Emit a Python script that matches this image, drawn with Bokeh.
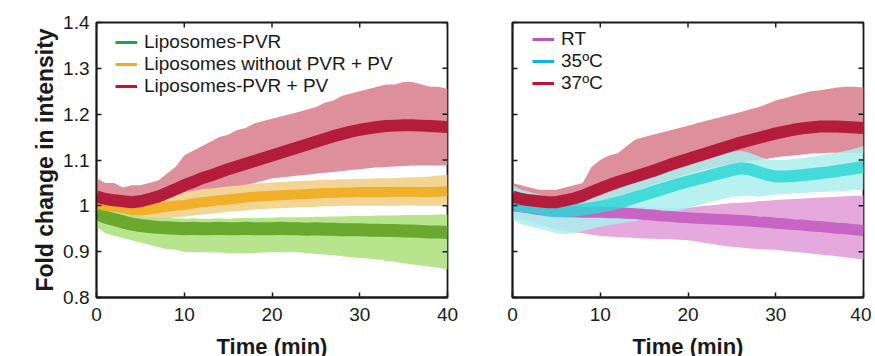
from bokeh.plotting import figure
from bokeh.layouts import row
from bokeh.models import Range1d, Legend, LegendItem, FixedTicker
from bokeh.embed import file_html
from bokeh.resources import INLINE

NAN = float("nan")

# ---------------- data ----------------
time_min = list(range(0, 41))

# Panel A
pvr_mean = [0.985, 0.975, 0.970, 0.965, 0.960, 0.957, 0.955, 0.953, 0.952, 0.951, 0.950, 0.951, 0.950, 0.950, 0.951, 0.950,
            0.950, 0.951, 0.950, 0.950, 0.950, 0.951, 0.950, 0.950, 0.949, 0.950, 0.949, 0.949, 0.948, 0.948, 0.948, 0.947,
            0.947, 0.946, 0.946, 0.945, 0.945, 0.944, 0.943, 0.943, 0.942]
pvr_upper = [1.005, 0.995, 0.990, 0.985, 0.980, 0.978, 0.975, 0.975, 0.974, 0.973, 0.972, 0.973, 0.972, 0.972, 0.973, 0.972,
             0.973, 0.974, 0.973, 0.974, 0.974, 0.975, 0.975, 0.975, 0.975, 0.976, 0.976, 0.977, 0.977, 0.978, 0.978, 0.978,
             0.979, 0.979, 0.979, 0.980, 0.980, 0.980, 0.980, 0.981, 0.981]
pvr_lower = [0.955, 0.940, 0.935, 0.930, 0.925, 0.920, 0.915, 0.910, 0.906, 0.904, 0.900, 0.899, 0.900, 0.898, 0.898, 0.897,
             0.897, 0.896, 0.897, 0.898, 0.899, 0.899, 0.900, 0.899, 0.897, 0.895, 0.894, 0.892, 0.890, 0.888, 0.886, 0.885,
             0.883, 0.880, 0.878, 0.875, 0.872, 0.870, 0.867, 0.865, 0.861]

nopvr_mean = [1.005, 1.000, 0.998, 0.995, 0.991, 0.990, 0.992, 0.995, 0.998, 1.000, 1.002, 1.005, 1.008, 1.010, 1.012, 1.014,
              1.016, 1.018, 1.020, 1.021, 1.022, 1.023, 1.024, 1.025, 1.026, 1.027, 1.028, 1.028, 1.029, 1.029, 1.030, 1.030,
              1.030, 1.030, 1.031, 1.031, 1.031, 1.030, 1.030, 1.031, 1.032]
nopvr_upper = [1.030, 1.025, 1.022, 1.018, 1.015, 1.015, 1.017, 1.020, 1.024, 1.027, 1.030, 1.033, 1.036, 1.038, 1.040, 1.042,
               1.044, 1.046, 1.048, 1.050, 1.051, 1.052, 1.053, 1.054, 1.055, 1.056, 1.057, 1.057, 1.058, 1.058, 1.059, 1.059,
               1.060, 1.060, 1.061, 1.062, 1.062, 1.063, 1.064, 1.066, 1.068]
nopvr_lower = [0.982, 0.976, 0.973, 0.970, 0.967, 0.966, 0.968, 0.970, 0.973, 0.975, 0.977, 0.979, 0.981, 0.983, 0.985, 0.987,
               0.989, 0.990, 0.992, 0.993, 0.994, 0.995, 0.996, 0.997, 0.997, 0.998, 0.999, 0.999, 1.000, 1.000, 1.000, 1.000,
               1.000, 1.000, 1.000, 1.001, 1.001, 1.000, 1.000, 1.000, 1.000]

pvrpv_mean = [1.020, 1.015, 1.012, 1.010, 1.008, 1.010, 1.015, 1.020, 1.028, 1.036, 1.045, 1.052, 1.060, 1.066, 1.073, 1.080,
              1.086, 1.092, 1.098, 1.104, 1.110, 1.116, 1.122, 1.128, 1.134, 1.140, 1.146, 1.152, 1.157, 1.162, 1.166, 1.169,
              1.172, 1.174, 1.175, 1.176, 1.176, 1.175, 1.174, 1.173, 1.172]
pvrpv_upper = [1.060, 1.050, 1.050, 1.040, 1.045, 1.045, 1.050, 1.055, 1.070, 1.085, 1.110, 1.120, 1.130, 1.140, 1.150, 1.155,
               1.165, 1.170, 1.180, 1.185, 1.190, 1.195, 1.200, 1.205, 1.210, 1.215, 1.225, 1.230, 1.240, 1.245, 1.250, 1.255,
               1.260, 1.265, 1.265, 1.270, 1.270, 1.265, 1.260, 1.260, 1.255]
pvrpv_lower = [0.995, 0.990, 0.990, 0.985, 0.985, 0.990, 0.990, 0.995, 1.000, 1.005, 1.010, 1.015, 1.020, 1.025, 1.030, 1.035,
               1.040, 1.045, 1.050, 1.055, 1.060, 1.062, 1.064, 1.066, 1.068, 1.070, 1.072, 1.074, 1.076, 1.078, 1.080, 1.082,
               1.084, 1.085, 1.086, 1.087, 1.088, 1.088, 1.088, 1.088, 1.088]

# Panel B
rt_mean = [1.000, 0.998, 0.995, 0.992, 0.990, 0.988, 0.987, 0.987, 0.986, 0.986, 0.986, 0.985, 0.985, 0.984, 0.983, 0.981,
           0.980, 0.978, 0.977, 0.975, 0.974, 0.973, 0.972, 0.971, 0.970, 0.969, 0.968, 0.967, 0.965, 0.964, 0.962, 0.961,
           0.959, 0.958, 0.956, 0.955, 0.953, 0.951, 0.950, 0.948, 0.946]
rt_upper = [1.025, 1.022, 1.018, 1.015, 1.012, 1.010, 1.008, 1.006, 1.005, 1.004, 1.002, 1.001, 1.000, 0.999, 0.998, 0.997,
            0.996, 0.996, 0.995, 0.995, 0.996, 0.998, 1.000, 1.002, 1.004, 1.006, 1.007, 1.008, 1.010, 1.011, 1.013, 1.014,
            1.015, 1.016, 1.017, 1.018, 1.019, 1.020, 1.021, 1.022, 1.022]
rt_lower = [0.975, 0.970, 0.965, 0.960, 0.955, 0.950, 0.945, 0.942, 0.940, 0.937, 0.934, 0.933, 0.932, 0.931, 0.930, 0.929,
            0.928, 0.927, 0.927, 0.926, 0.925, 0.922, 0.919, 0.916, 0.913, 0.911, 0.909, 0.907, 0.906, 0.905, 0.904, 0.902,
            0.900, 0.898, 0.896, 0.894, 0.892, 0.890, 0.888, 0.885, 0.883]

c35_mean = [1.005, 1.000, 0.997, 0.995, 0.990, 0.988, 0.988, 0.990, 0.992, 0.995, 0.998, 1.002, 1.007, 1.012, 1.018, 1.024,
            1.030, 1.036, 1.042, 1.048, 1.053, 1.058, 1.063, 1.068, 1.073, 1.078, 1.082, 1.080, 1.074, 1.068, 1.064, 1.064,
            1.065, 1.067, 1.069, 1.071, 1.073, 1.076, 1.079, 1.082, 1.085]
c35_upper = [1.045, 1.035, 1.030, 1.025, 1.020, 1.015, 1.010, 1.012, 1.015, 1.018, 1.022, 1.030, 1.038, 1.045, 1.052, 1.058,
             1.064, 1.070, 1.076, 1.082, 1.088, 1.094, 1.100, 1.106, 1.112, 1.118, 1.120, 1.116, 1.108, 1.102, 1.100, 1.100,
             1.102, 1.104, 1.107, 1.110, 1.113, 1.116, 1.120, 1.125, 1.130]
c35_lower = [0.970, 0.960, 0.955, 0.950, 0.945, 0.940, 0.938, 0.940, 0.945, 0.950, 0.955, 0.958, 0.961, 0.964, 0.967, 0.970,
             0.975, 0.980, 0.985, 0.990, 0.995, 1.000, 1.005, 1.010, 1.015, 1.020, 1.022, 1.022, 1.020, 1.022, 1.025, 1.026,
             1.027, 1.028, 1.029, 1.030, 1.031, 1.032, 1.033, 1.034, 1.035]

c37_mean = [1.020, 1.015, 1.012, 1.010, 1.008, 1.008, 1.012, 1.016, 1.022, 1.030, 1.038, 1.045, 1.052, 1.058, 1.064, 1.070,
            1.076, 1.083, 1.090, 1.096, 1.102, 1.108, 1.114, 1.120, 1.126, 1.132, 1.138, 1.143, 1.148, 1.153, 1.158, 1.162,
            1.166, 1.169, 1.171, 1.173, 1.173, 1.173, 1.172, 1.171, 1.170]
c37_upper = [1.050, 1.045, 1.040, 1.035, 1.035, 1.035, 1.040, 1.045, 1.050, 1.085, 1.100, 1.110, 1.115, 1.130, 1.145, 1.150,
             1.155, 1.160, 1.165, 1.170, 1.175, 1.180, 1.185, 1.190, 1.195, 1.200, 1.205, 1.210, 1.215, 1.222, 1.230, 1.235,
             1.240, 1.245, 1.250, 1.252, 1.255, 1.258, 1.260, 1.260, 1.258]
c37_lower = [0.995, 0.990, 0.988, 0.985, 0.985, 0.985, 0.988, 0.992, 0.998, 1.003, 1.010, 1.015, 1.020, 1.025, 1.032, 1.040,
             1.046, 1.052, 1.058, 1.064, 1.070, 1.075, 1.080, 1.084, 1.088, 1.092, 1.095, 1.098, 1.100, 1.103, 1.106, 1.108,
             1.110, 1.112, 1.114, 1.115, 1.116, 1.116, 1.116, 1.116, 1.115]

x_ticks = [0, 10, 20, 30, 40]
y_ticks = [0.8, 0.9, 1.0, 1.1, 1.2, 1.3, 1.4]
y_tick_labels = {0.8: "0.8", 0.9: "0.9", 1.0: "1", 1.1: "1.1", 1.2: "1.2", 1.3: "1.3", 1.4: "1.4"}
y_tick_blank = {0.8: "", 0.9: "", 1.0: "", 1.1: "", 1.2: "", 1.3: "", 1.4: ""}
X_MIN, X_MAX = 0, 40
Y_MIN, Y_MAX = 0.8, 1.4

legend_a = ["Liposomes-PVR", "Liposomes without PVR + PV", "Liposomes-PVR + PV"]
legend_b = ["RT", "35ºC", "37ºC"]

AXIS_COLOR = "#1a1a1a"
FRAME_W, FRAME_H = 351, 275


def make_panel(left_border, right_border, show_ylabels):
    p = figure(frame_width=FRAME_W, frame_height=FRAME_H, output_backend="svg", toolbar_location=None,
               x_range=Range1d(X_MIN, X_MAX), y_range=Range1d(Y_MIN, Y_MAX),
               min_border_left=left_border, min_border_right=right_border,
               min_border_top=22, min_border_bottom=58)
    p.outline_line_color = AXIS_COLOR
    p.outline_line_width = 1.8
    p.xgrid.grid_line_color = None
    p.ygrid.grid_line_color = None
    for ax in [p.xaxis[0], p.yaxis[0]]:
        ax.axis_line_color = AXIS_COLOR
        ax.axis_line_width = 1.8
        ax.major_tick_line_color = AXIS_COLOR
        ax.major_tick_line_width = 1.5
        ax.major_tick_in = 5
        ax.major_tick_out = 0
        ax.minor_tick_line_color = None
        ax.major_label_text_font_size = "19px"
        ax.major_label_text_color = "#1a1a1a"
        ax.axis_label_text_font_style = "bold"
        ax.axis_label_text_font_size = "22px"
        ax.axis_label_text_color = "#1a1a1a"
    p.xaxis[0].ticker = FixedTicker(ticks=x_ticks)
    p.yaxis[0].ticker = FixedTicker(ticks=y_ticks)
    p.xaxis[0].axis_label = "Time (min)"
    p.xaxis[0].major_label_standoff = 10
    p.xaxis[0].axis_label_standoff = 10
    if show_ylabels:
        p.yaxis[0].major_label_overrides = y_tick_labels
        p.yaxis[0].axis_label = "Fold change in intensity"
        p.yaxis[0].major_label_standoff = 7
        p.yaxis[0].axis_label_standoff = 2
        p.yaxis[0].axis_label_text_font_size = "23px"
    else:
        p.yaxis[0].major_label_overrides = y_tick_blank
        p.yaxis[0].major_label_standoff = 0
    return p


def add_mirror_ticks(p):
    # inward tick marks on the top and right frame edges, at the axis tick positions
    tick_dy = (Y_MAX - Y_MIN) * 5 / FRAME_H
    tick_dx = (X_MAX - X_MIN) * 5 / FRAME_W
    p.segment(x0=x_ticks, y0=[Y_MAX] * len(x_ticks), x1=x_ticks, y1=[Y_MAX - tick_dy] * len(x_ticks),
              line_color=AXIS_COLOR, line_width=1.5)
    p.segment(x0=[X_MAX] * len(y_ticks), y0=y_ticks, x1=[X_MAX - tick_dx] * len(y_ticks), y1=y_ticks,
              line_color=AXIS_COLOR, line_width=1.5)


def add_legend(p, labels, colors, x_off, y_off):
    items = []
    for lab, col in zip(labels, colors):
        r = p.line([NAN, NAN], [NAN, NAN], line_color=col, line_width=3)
        items.append(LegendItem(label=lab, renderers=[r]))
    leg = Legend(items=items, location=(x_off, y_off), orientation="vertical",
                 background_fill_alpha=0, border_line_color=None,
                 label_text_font_size="19px", label_text_color="#1a1a1a",
                 glyph_width=22, glyph_height=22, label_height=22, label_standoff=7,
                 spacing=0, padding=0, margin=0)
    p.add_layout(leg, "center")


def add_panel_letter(p, letter, x_off):
    # panel letter: a one-item legend without glyph, placed up-left of the frame
    r = p.line([NAN, NAN], [NAN, NAN], line_alpha=0)
    leg = Legend(items=[LegendItem(label=letter, renderers=[r])], location=(x_off, FRAME_H - 12),
                 background_fill_alpha=0, border_line_color=None,
                 label_text_font_size="25px", label_text_font_style="bold", label_text_color="#111111",
                 glyph_width=0, glyph_height=20, label_height=20, label_standoff=0,
                 spacing=0, padding=0, margin=0)
    p.add_layout(leg, "center")


# ---------------- Panel A ----------------
pa = make_panel(96, 20, True)
pa.varea(time_min, pvrpv_lower, pvrpv_upper, fill_color="#de8f9c")
pa.varea(time_min, nopvr_lower, nopvr_upper, fill_color="#f2d494")
pa.varea(time_min, pvr_lower, pvr_upper, fill_color="#b8e48e")
pa.line(time_min, pvr_mean, line_color="#6aa82e", line_width=13)
pa.line(time_min, nopvr_mean, line_color="#f0b02a", line_width=10)
pa.line(time_min, pvrpv_mean, line_color="#b31c3a", line_width=12)
add_mirror_ticks(pa)
add_legend(pa, legend_a, ["#1aaa3c", "#f7a823", "#c80f2e"], 19, 200)
add_panel_letter(pa, "A", -84)

# ---------------- Panel B ----------------
pb = make_panel(45, 8, False)
pb.varea(time_min, c37_lower, c37_upper, fill_color="#de8f9c")
pb.varea(time_min, rt_lower, rt_upper, fill_color="#e6a9de")
pb.varea(time_min, c35_lower, c35_upper, fill_color="#aaf0ef", fill_alpha=0.85)
pb.line(time_min, rt_mean, line_color="#c764c4", line_width=11)
pb.line(time_min, c35_mean, line_color="#2fd6d6", line_width=12, line_alpha=0.85)
pb.line(time_min, c37_mean, line_color="#b31c3a", line_width=12)
add_mirror_ticks(pb)
add_legend(pb, legend_b, ["#b45ab9", "#0ab0f0", "#c80f2e"], 20, 203)
add_panel_letter(pb, "B", -27)

layout = row(pa, pb)
open("out.html", "w").write(file_html(layout, INLINE))
